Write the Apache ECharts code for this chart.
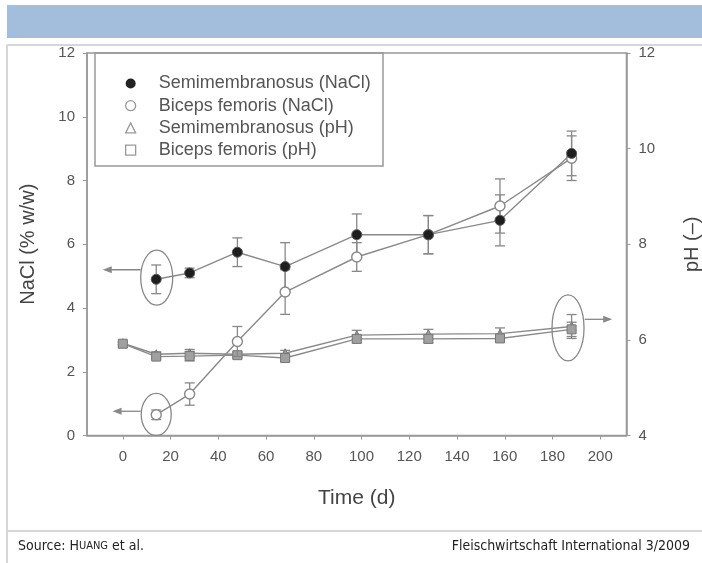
<!DOCTYPE html>
<html>
<head>
<meta charset="utf-8">
<script src="https://cdn.jsdelivr.net/npm/echarts@6/dist/echarts.min.js"></script>
<style>
html,body{margin:0;padding:0;background:#fff;}
#c{width:702px;height:563px;}
</style>
</head>
<body>
<div id="c"></div>
<script>
// ---- data ----
const daysNaCl = [14, 28, 48, 68, 98, 128, 158, 188];
const semiNaCl = [4.9, 5.1, 5.75, 5.3, 6.3, 6.3, 6.75, 8.85];
const semiNaClErr = [0.45, 0.15, 0.45, 0.75, 0.65, 0.6, 0.8, 0.7];
const bicepsNaCl = [0.65, 1.3, 2.95, 4.5, 5.6, 6.3, 7.2, 8.7];
const bicepsNaClErr = [0.15, 0.35, 0.47, 0.7, 0.45, 0.6, 0.85, 0.7];

const daysPH = [0, 14, 28, 48, 68, 98, 128, 158, 188];
const semiPH = [5.93, 5.70, 5.72, 5.70, 5.72, 6.10, 6.12, 6.13, 6.28];
const semiPHErr = [0.03, 0.05, 0.08, 0.05, 0.06, 0.1, 0.1, 0.12, 0.25];
const bicepsPH = [5.92, 5.65, 5.66, 5.68, 5.62, 6.02, 6.02, 6.03, 6.22];
const bicepsPHErr = [0.03, 0.05, 0.1, 0.05, 0.06, 0.08, 0.08, 0.08, 0.15];

const xTicks = [0, 20, 40, 60, 80, 100, 120, 140, 160, 180, 200];
const names = ['Semimembranosus (NaCl)', 'Biceps femoris (NaCl)', 'Semimembranosus (pH)', 'Biceps femoris (pH)'];

// annotations: [x, y, yAxisIndex]
const ellipses = [
  {c: [14.2, 4.95], axis: 0, rx: 16, ry: 27.5},
  {c: [14, 0.66], axis: 0, rx: 15, ry: 21},
  {c: [186.5, 6.25], axis: 1, rx: 16, ry: 33}
];
const arrows = [
  {from: [7.5, 5.2], to: [-8.4, 5.2], axis: 0},
  {from: [7.5, 0.76], to: [-4.3, 0.76], axis: 0},
  {from: [193.5, 6.43], to: [205, 6.43], axis: 1}
];

// ---- build ----
function pairs(xs, ys) { return xs.map((x, i) => [x, ys[i]]); }
function errs(xs, ys, es) { return xs.map((x, i) => [x, ys[i] - es[i], ys[i] + es[i]]); }

const GREY = '#8a8a8a';
const FONT = 'Liberation Sans, Arial, sans-serif';
const NARROW = 'Liberation Sans Narrow, DejaVu Sans Condensed, sans-serif';

function errSeries(data, yIdx, z) {
  return {
    type: 'custom', yAxisIndex: yIdx, z: z, silent: true,
    data: data,
    encode: {x: 0, y: [1, 2]},
    renderItem: function (params, api) {
      const x = api.value(0);
      const lo = api.coord([x, api.value(1)]);
      const hi = api.coord([x, api.value(2)]);
      const w = 5;
      const st = {stroke: '#888', lineWidth: 1.3, fill: null};
      return {
        type: 'group',
        children: [
          {type: 'line', shape: {x1: lo[0], y1: lo[1], x2: hi[0], y2: hi[1]}, style: st},
          {type: 'line', shape: {x1: lo[0] - w, y1: lo[1], x2: lo[0] + w, y2: lo[1]}, style: st},
          {type: 'line', shape: {x1: hi[0] - w, y1: hi[1], x2: hi[0] + w, y2: hi[1]}, style: st}
        ]
      };
    }
  };
}

const chart = echarts.init(document.getElementById('c'), null, {renderer: 'canvas'});

const option = {
  animation: false,
  backgroundColor: '#fff',
  textStyle: {fontFamily: FONT},
  grid: {left: 87, right: 75.5, top: 53, bottom: 127.5, outerBoundsMode: 'none', containLabel: false,
         show: true, borderColor: '#999', borderWidth: 1.5, backgroundColor: 'transparent'},
  legend: {
    orient: 'vertical', left: 120, top: 69.5, itemWidth: 10, itemHeight: 10, itemGap: 4.2,
    selectedMode: false,
    textStyle: {fontFamily: FONT, fontSize: 18, color: '#555', lineHeight: 18, padding: [0, 0, 0, 18]},
    data: [
      {name: names[0], icon: 'circle', itemStyle: {color: '#222', borderColor: '#222', borderWidth: 0}},
      {name: names[1], icon: 'circle', itemStyle: {color: '#fff', borderColor: '#999', borderWidth: 1.3}},
      {name: names[2], icon: 'triangle', itemStyle: {color: '#fff', borderColor: '#999', borderWidth: 1.3}},
      {name: names[3], icon: 'rect', itemStyle: {color: '#fff', borderColor: '#999', borderWidth: 1.3}}
    ]
  },
  xAxis: {
    type: 'value', min: -15, max: 211,
    name: 'Time (d)', nameLocation: 'middle', nameGap: 52,
    nameTextStyle: {fontFamily: FONT, fontSize: 21, color: '#444'},
    axisLine: {onZero: false, lineStyle: {color: '#999', width: 1.5}},
    axisTick: {show: true, length: 4, customValues: xTicks, lineStyle: {color: '#999'}},
    axisLabel: {customValues: xTicks, fontFamily: FONT, fontSize: 15, color: '#555', margin: 14},
    splitLine: {show: false}
  },
  yAxis: [
    {
      type: 'value', min: 0, max: 12, interval: 2, position: 'left',
      name: 'NaCl (% w/w)', nameLocation: 'middle', nameRotate: 90, nameGap: 49,
      nameTextStyle: {fontFamily: FONT, fontSize: 20, color: '#444'},
      axisLine: {show: true, onZero: false, lineStyle: {color: '#999', width: 1.5}},
      axisTick: {show: true, length: 4, lineStyle: {color: '#999'}},
      axisLabel: {fontFamily: FONT, fontSize: 15, color: '#555', margin: 12},
      splitLine: {show: false}
    },
    {
      type: 'value', min: 4, max: 12, interval: 2, position: 'right',
      name: 'pH (–)', nameLocation: 'middle', nameRotate: 90, nameGap: 56,
      nameTextStyle: {fontFamily: FONT, fontSize: 20, color: '#444'},
      axisLine: {show: true, onZero: false, lineStyle: {color: '#999', width: 1.5}},
      axisTick: {show: true, length: 4, lineStyle: {color: '#999'}},
      axisLabel: {fontFamily: FONT, fontSize: 15, color: '#555', margin: 12},
      splitLine: {show: false}
    }
  ],
  series: [
    errSeries(errs(daysPH, semiPH, semiPHErr), 1, 2),
    errSeries(errs(daysPH, bicepsPH, bicepsPHErr), 1, 2),
    {
      name: names[2], type: 'line', yAxisIndex: 1, z: 3,
      data: pairs(daysPH, semiPH),
      symbol: 'triangle', symbolSize: 9,
      lineStyle: {color: GREY, width: 1.4},
      itemStyle: {color: '#999', borderColor: '#777', borderWidth: 1}
    },
    {
      name: names[3], type: 'line', yAxisIndex: 1, z: 3,
      data: pairs(daysPH, bicepsPH),
      symbol: 'rect', symbolSize: 9,
      lineStyle: {color: GREY, width: 1.4},
      itemStyle: {color: '#a0a0a0', borderColor: '#777', borderWidth: 1}
    },
    errSeries(errs(daysNaCl, bicepsNaCl, bicepsNaClErr), 0, 4),
    errSeries(errs(daysNaCl, semiNaCl, semiNaClErr), 0, 4),
    {
      name: names[1], type: 'line', yAxisIndex: 0, z: 5,
      data: pairs(daysNaCl, bicepsNaCl),
      symbol: 'circle', symbolSize: 10,
      lineStyle: {color: GREY, width: 1.4},
      itemStyle: {color: '#fff', borderColor: '#888', borderWidth: 1.4}
    },
    {
      name: names[0], type: 'line', yAxisIndex: 0, z: 6,
      data: pairs(daysNaCl, semiNaCl),
      symbol: 'circle', symbolSize: 10,
      lineStyle: {color: GREY, width: 1.4},
      itemStyle: {color: '#1e1e1e', borderColor: '#555', borderWidth: 1}
    }
  ]
};
chart.setOption(option);

// ---- decorations (page frame, legend box, annotations) ----
const W = 702, H = 563;
const g = [];
g.push({type: 'rect', shape: {x: 7, y: 5, width: W - 7, height: 33}, style: {fill: '#a2bedc'}, z: 0});
g.push({type: 'line', shape: {x1: 7, y1: 45, x2: W, y2: 45}, style: {stroke: '#d6d6d6', lineWidth: 2}, z: 0});
g.push({type: 'line', shape: {x1: 7, y1: 45, x2: 7, y2: H}, style: {stroke: '#d6d6d6', lineWidth: 2}, z: 0});
g.push({type: 'line', shape: {x1: 7, y1: 531, x2: W, y2: 531}, style: {stroke: '#d6d6d6', lineWidth: 2}, z: 0});
g.push({
  type: 'text', left: 18, top: 539, z: 10,
  style: {
    text: 'Source: {a|H}{b|UANG} et al.',
    fontFamily: NARROW, fontSize: 14, fill: '#222',
    rich: {a: {fontSize: 14, fill: '#222', fontFamily: NARROW},
           b: {fontSize: 11, fill: '#222', fontFamily: NARROW}}
  }
});
g.push({
  type: 'text', right: 12, top: 539, z: 10,
  style: {text: 'Fleischwirtschaft International 3/2009', fontFamily: NARROW, fontSize: 14, fill: '#222'}
});
// legend box
g.push({type: 'rect', shape: {x: 95, y: 53, width: 288, height: 113}, style: {fill: 'none', stroke: '#999', lineWidth: 1.5}, z: 1});

function px(pt, axis) { return chart.convertToPixel({xAxisIndex: 0, yAxisIndex: axis}, pt); }
ellipses.forEach(e => {
  const p = px(e.c, e.axis);
  g.push({type: 'ellipse', shape: {cx: p[0], cy: p[1], rx: e.rx, ry: e.ry}, style: {fill: 'none', stroke: '#888', lineWidth: 1.3}, z: 20});
});
arrows.forEach(a => {
  const p1 = px(a.from, a.axis), p2 = px(a.to, a.axis);
  const dir = p2[0] > p1[0] ? 1 : -1;
  g.push({type: 'line', shape: {x1: p1[0], y1: p1[1], x2: p2[0] - dir * 6, y2: p2[1]}, style: {stroke: '#888', lineWidth: 1.3}, z: 20});
  g.push({type: 'polygon', shape: {points: [[p2[0], p2[1]], [p2[0] - dir * 9, p2[1] - 3.5], [p2[0] - dir * 9, p2[1] + 3.5]]}, style: {fill: '#888'}, z: 20});
});
chart.setOption({graphic: g});
</script>
</body>
</html>
